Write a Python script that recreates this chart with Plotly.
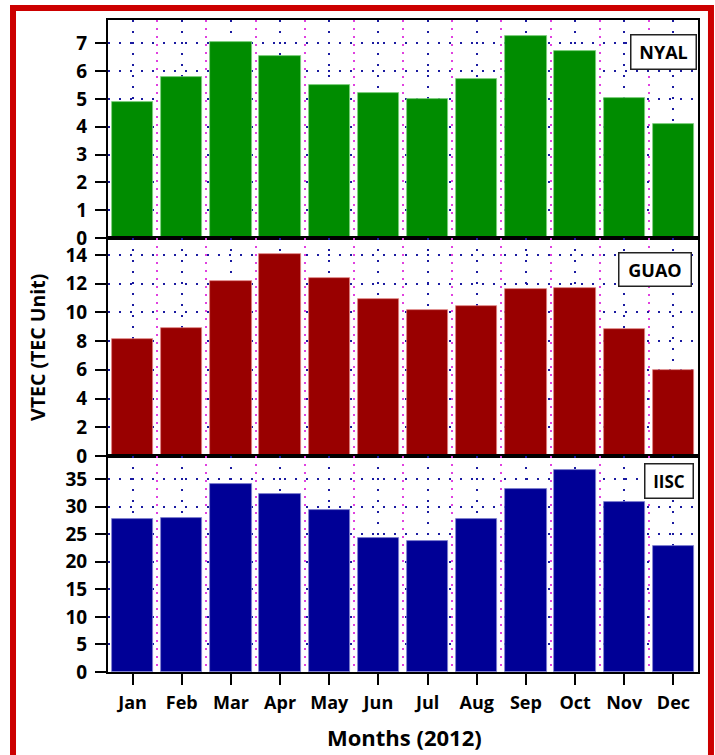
import plotly.graph_objects as go

months = ["Jan", "Feb", "Mar", "Apr", "May", "Jun", "Jul", "Aug", "Sep", "Oct", "Nov", "Dec"]
nyal = [4.88, 5.80, 7.06, 6.54, 5.49, 5.20, 5.01, 5.72, 7.27, 6.72, 5.04, 4.09]
guao = [8.15, 8.89, 12.19, 14.05, 12.42, 10.91, 10.15, 10.45, 11.63, 11.72, 8.87, 5.97]
iisc = [27.72, 27.90, 34.09, 32.27, 29.47, 24.32, 23.83, 27.83, 33.18, 36.64, 30.82, 22.81]

stations = ["NYAL", "GUAO", "IISC"]
series = [nyal, guao, iisc]
colors = ["#008C00", "#990000", "#000096"]
edge_colors = ["#7FD07F", "#E08080", "#8080D0"]
yranges = [[0, 7.84], [0, 15.18], [0, 39.2]]
ydticks = [1, 2, 5]
domains = [[0.6656, 1.0], [0.3313, 0.6656], [0.0, 0.3313]]
xpos = list(range(len(months)))

FONT = "Open Sans"
fig = go.Figure()

for i in range(3):
    ax = "" if i == 0 else str(i + 1)
    fig.add_trace(go.Bar(
        x=xpos, y=series[i], width=0.84,
        marker=dict(color=colors[i], line=dict(color=edge_colors[i], width=0.8)),
        xaxis="x" + ax, yaxis="y" + ax, showlegend=False,
    ))
    bottom = (i == 2)
    fig.layout["xaxis" + ax] = dict(
        anchor="y" + ax, domain=[0, 1], range=[-0.5, 11.5],
        tickmode="array", tickvals=xpos, ticktext=months if bottom else [""] * 12,
        showticklabels=bottom, ticks="outside" if bottom else "", ticklen=11, tickwidth=2,
        tickcolor="black", ticklabelstandoff=2,
        showgrid=True, gridcolor="#1a1aa0", gridwidth=2, griddash="2px,9px",
        minor=dict(tick0=0.5, dtick=1, showgrid=True, gridcolor="#e040e0",
                   gridwidth=2, griddash="2px,6px", ticks=""),
        showline=True, linecolor="black", linewidth=2, mirror=True,
        zeroline=False,
        tickfont=dict(family=FONT, size=18, color="black", weight="bold"),
    )
    fig.layout["yaxis" + ax] = dict(
        anchor="x" + ax, domain=domains[i], range=yranges[i],
        tickmode="linear", tick0=0, dtick=ydticks[i],
        ticks="outside", ticklen=11, tickwidth=2, tickcolor="black",
        ticklabelstandoff=4,
        showgrid=True, gridcolor="#1a1aa0", gridwidth=2, griddash="2px,9px",
        showline=True, linecolor="black", linewidth=2, mirror=True,
        zeroline=False,
        tickfont=dict(family=FONT, size=19, color="black", weight="bold"),
    )

# station label boxes: (x right, y top, width, height, font size)
boxes = [(0.998, 0.9785, 56, 25, 18), (0.9898, 0.644, 63, 24, 18), (0.9932, 0.3206, 39, 25, 17)]
for i, (bx, by, w, h, fs) in enumerate(boxes):
    fig.add_annotation(
        x=bx, y=by, xref="paper", yref="paper", xanchor="right", yanchor="top",
        text=stations[i], showarrow=False, width=w, height=h,
        font=dict(family=FONT, size=fs, color="black", weight="bold"),
        bgcolor="white", bordercolor="#222222", borderwidth=1.5, borderpad=4,
    )

fig.add_annotation(
    x=-0.1186, y=0.497, xref="paper", yref="paper", text="VTEC (TEC Unit)",
    xanchor="center", yanchor="middle",
    textangle=-90, showarrow=False,
    font=dict(family=FONT, size=19.5, color="black", weight="bold"),
)
fig.add_annotation(
    x=0.503, y=-0.0997, xref="paper", yref="paper", text="Months (2012)",
    xanchor="center", yanchor="middle",
    showarrow=False,
    font=dict(family=FONT, size=22, color="black", weight="bold"),
)

# red frame
fig.add_shape(type="rect", xref="paper", yref="paper",
              x0=-0.161, x1=1.022, y0=-0.14, y1=1.0184,
              line=dict(color="#CC0000", width=6), layer="above")

fig.update_layout(
    width=715, height=755,
    margin=dict(l=108, r=17, t=20, b=83),
    paper_bgcolor="white", plot_bgcolor="white",
    bargap=0,
)

fig.write_html("out.html", config={"displayModeBar": False},
               post_script="document.body.style.margin='0';")
